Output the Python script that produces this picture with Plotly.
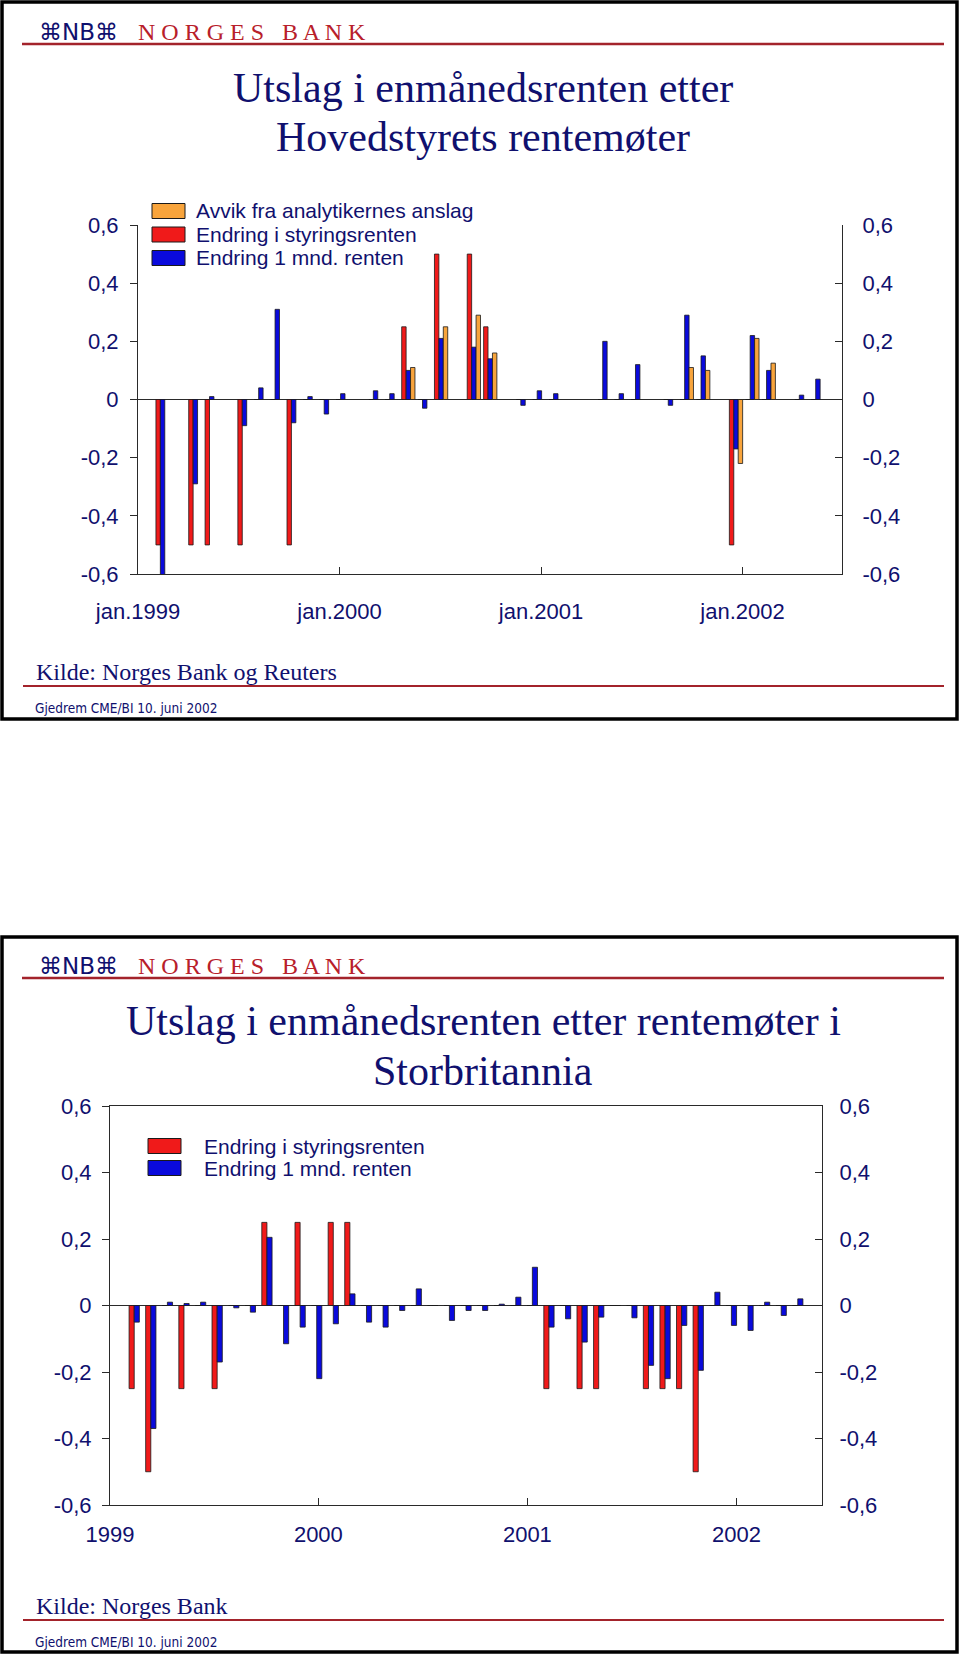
import plotly.graph_objects as go
import pandas as pd

# ---------------- data ----------------
# Norges Bank meetings (month of meeting)
nb_months = ["1999-01", "1999-03", "1999-04", "1999-06", "1999-07", "1999-08", "1999-09",
             "1999-10", "1999-11", "1999-12", "2000-02", "2000-03", "2000-04", "2000-05",
             "2000-06", "2000-08", "2000-09", "2000-11", "2000-12", "2001-01", "2001-04",
             "2001-05", "2001-06", "2001-08", "2001-09", "2001-10", "2001-12", "2002-01",
             "2002-02", "2002-04", "2002-05"]
nb_policy = [-0.5, -0.5, -0.5, -0.5, 0, 0, -0.5, 0, 0, 0, 0, 0, 0.25, 0, 0.5, 0.5, 0.25,
             0, 0, 0, 0, 0, 0, 0, 0, 0, -0.5, 0, 0, 0, 0]
nb_1m = [-0.61, -0.29, 0.01, -0.09, 0.04, 0.31, -0.08, 0.01, -0.05, 0.02, 0.03, 0.02, 0.10,
         -0.03, 0.21, 0.18, 0.14, -0.02, 0.03, 0.02, 0.20, 0.02, 0.12, -0.02, 0.29, 0.15,
         -0.17, 0.22, 0.10, 0.015, 0.07]
nb_surprise = [None, None, None, None, None, None, None, None, None, None, None, None, 0.11,
               None, 0.25, 0.29, 0.16, None, None, None, None, None, None, None, 0.11, 0.10,
               -0.22, 0.21, 0.125, None, None]

# Bank of England MPC meetings, Jan 1999 - May 2002
uk_months = [str(p) for p in pd.period_range("1999-01", "2002-05", freq="M")]
uk_policy = [-0.25, -0.5, 0, -0.25, 0, -0.25, 0, 0, 0.25, 0, 0.25, 0, 0.25, 0.25,
             0, 0, 0, 0, 0, 0, 0, 0, 0, 0, 0, -0.25, 0, -0.25, -0.25, 0, 0, -0.25,
             -0.25, -0.25, -0.5, 0, 0, 0, 0, 0, 0]
uk_1m = [-0.05, -0.37, 0.01, 0.006, 0.01, -0.17, -0.007, -0.02, 0.205, -0.115, -0.065,
         -0.22, -0.055, 0.035, -0.05, -0.065, -0.015, 0.05, 0, -0.045, -0.015, -0.015,
         0.004, 0.025, 0.115, -0.065, -0.04, -0.11, -0.035, 0, -0.037, -0.18, -0.22,
         -0.06, -0.195, 0.04, -0.06, -0.075, 0.01, -0.03, 0.02]

y_ticks = [-0.6, -0.4, -0.2, 0, 0.2, 0.4, 0.6]
y_ticktext = ["-0,6", "-0,4", "-0,2", "0", "0,2", "0,4", "0,6"]

nb_tick_text = ["jan.1999", "jan.2000", "jan.2001", "jan.2002"]
nb_tick_pos = [-1.5, 10.8, 23.1, 35.4]
uk_tick_text = ["1999", "2000", "2001", "2002"]
uk_tick_pos = [-1.46, 11.1, 23.7, 36.3]

# ---------------- styling ----------------
W, H = 960, 1654
NAVY = "#10106E"
RED = "#F01A1A"
BLUE = "#0A0ADC"
ORANGE = "#F8A43C"
EDGE = "#1A1A1A"
AXC = "#2A2A2A"
DARKRED = "#A3232B"
SANS = "Liberation Sans, Arial, sans-serif"
SERIF = "Liberation Serif, Times New Roman, serif"
NARROW = "Liberation Sans Narrow, DejaVu Sans Condensed, Arial Narrow, sans-serif"


def X(p):
    return p / W


def Y(p):
    return 1 - p / H


def month_index(m):
    yy, mm = m.split("-")
    return (int(yy) - 1999) * 12 + int(mm) - 1


nb_x = [month_index(m) for m in nb_months]
uk_x = [month_index(m) for m in uk_months]

fig = go.Figure()

w1 = 0.27
fig.add_trace(go.Bar(x=nb_x, y=nb_policy, name="Endring i styringsrenten", width=w1,
                     offset=-1.5 * w1, marker=dict(color=RED, line=dict(color=EDGE, width=0.8)),
                     xaxis="x", yaxis="y"))
fig.add_trace(go.Bar(x=nb_x, y=nb_1m, name="Endring 1 mnd. renten", width=w1,
                     offset=-0.5 * w1, marker=dict(color=BLUE, line=dict(color=EDGE, width=0.8)),
                     xaxis="x", yaxis="y"))
fig.add_trace(go.Bar(x=nb_x, y=nb_surprise, name="Avvik fra analytikernes anslag", width=w1,
                     offset=0.5 * w1, marker=dict(color=ORANGE, line=dict(color=EDGE, width=0.8)),
                     xaxis="x", yaxis="y"))

w2 = 0.31
fig.add_trace(go.Bar(x=uk_x, y=uk_policy, name="Endring i styringsrenten", width=w2,
                     offset=-w2, marker=dict(color=RED, line=dict(color=EDGE, width=0.8)),
                     xaxis="x2", yaxis="y2"))
fig.add_trace(go.Bar(x=uk_x, y=uk_1m, name="Endring 1 mnd. renten", width=w2,
                     offset=0, marker=dict(color=BLUE, line=dict(color=EDGE, width=0.8)),
                     xaxis="x2", yaxis="y2"))

# helper traces so that the right-hand axes are drawn
fig.add_trace(go.Scatter(x=[None], y=[None], xaxis="x", yaxis="y3", showlegend=False,
                         hoverinfo="skip"))
fig.add_trace(go.Scatter(x=[None], y=[None], xaxis="x2", yaxis="y4", showlegend=False,
                         hoverinfo="skip"))

tickfont = dict(family=SANS, size=22, color=NAVY)

common_y = dict(range=[-0.6, 0.6], tickvals=y_ticks, ticktext=y_ticktext, showgrid=False,
                showline=True, linecolor=AXC, linewidth=1, tickcolor=AXC, ticklen=7,
                tickfont=tickfont, fixedrange=True, automargin=False)

fig.update_layout(
    width=W, height=H, margin=dict(l=0, r=0, t=0, b=0, pad=0, autoexpand=False),
    paper_bgcolor="white", plot_bgcolor="white",
    barmode="overlay", showlegend=False,
    xaxis=dict(domain=[X(138), X(842)], range=[-1.5, 41.47], anchor="y",
               tickvals=nb_tick_pos, ticktext=nb_tick_text, ticks="inside", ticklen=7,
               tickcolor=AXC, showline=True, linecolor=AXC, linewidth=1, showgrid=False,
               zeroline=False, tickfont=dict(family=SANS, size=22, color=NAVY),
               ticklabelstandoff=18, automargin=False),
    yaxis=dict(domain=[Y(574), Y(225)], anchor="x", ticks="outside", zeroline=True,
               zerolinecolor=AXC, zerolinewidth=1, ticklabelstandoff=7, **common_y),
    yaxis3=dict(overlaying="y", anchor="x", side="right", ticks="inside", zeroline=False,
                ticklabelstandoff=15, **common_y),
    xaxis2=dict(domain=[X(110), X(822)], range=[-1.46, 41.46], anchor="y2",
                tickvals=uk_tick_pos, ticktext=uk_tick_text, ticks="inside", ticklen=7,
                tickcolor=AXC, showline=True, mirror=True, linecolor=AXC, linewidth=1,
                showgrid=False, zeroline=False,
                tickfont=dict(family=SANS, size=22, color=NAVY), ticklabelstandoff=10,
                automargin=False),
    yaxis2=dict(domain=[Y(1505), Y(1106)], anchor="x2", ticks="outside", zeroline=True,
                zerolinecolor=AXC, zerolinewidth=1, ticklabelstandoff=6, **common_y),
    yaxis4=dict(overlaying="y2", anchor="x2", side="right", ticks="inside", zeroline=False,
                ticklabelstandoff=12, **common_y),
)

shapes = []
annotations = []

# slide frames
for top, bot in [(2, 719), (937, 1652)]:
    shapes.append(dict(type="rect", xref="paper", yref="paper", x0=X(2), x1=X(957),
                       y0=Y(bot), y1=Y(top), line=dict(color="black", width=3.5),
                       fillcolor="rgba(0,0,0,0)"))


def header(offset):
    shapes.append(dict(type="line", xref="paper", yref="paper", x0=X(22), x1=X(944),
                       y0=Y(44 + offset), y1=Y(44 + offset),
                       line=dict(color=DARKRED, width=2.5)))
    annotations.append(dict(text="⌘NB⌘", xref="paper", yref="paper", x=X(78), y=Y(32 + offset),
                            xanchor="center", yanchor="middle", showarrow=False,
                            font=dict(family="DejaVu Sans, sans-serif", size=23, color=NAVY)))
    annotations.append(dict(text="N O R G E S   B A N K", xref="paper", yref="paper",
                            x=X(136), y=Y(32 + offset), xanchor="left", yanchor="middle",
                            showarrow=False,
                            font=dict(family=SERIF, size=24, color="#B8202A")))


def footer(offset, source):
    annotations.append(dict(text=source, xref="paper", yref="paper", x=X(34), y=Y(672 + offset),
                            xanchor="left", yanchor="middle", showarrow=False,
                            font=dict(family=SERIF, size=24, color=NAVY)))
    shapes.append(dict(type="line", xref="paper", yref="paper", x0=X(23), x1=X(944),
                       y0=Y(686 + offset), y1=Y(686 + offset),
                       line=dict(color=DARKRED, width=2)))
    annotations.append(dict(text="Gjedrem CME/BI 10. juni 2002", xref="paper", yref="paper",
                            x=X(33), y=Y(708 + offset), xanchor="left", yanchor="middle",
                            showarrow=False, font=dict(family=NARROW, size=13.5, color=NAVY)))


header(0)
header(934)
footer(0, "Kilde: Norges Bank og Reuters")
footer(934, "Kilde: Norges Bank")

# titles
for txt, yy in [("Utslag i enmånedsrenten etter", 88), ("Hovedstyrets rentemøter", 137),
                ("Utslag i enmånedsrenten etter rentemøter i", 1021), ("Storbritannia", 1071)]:
    annotations.append(dict(text=txt, xref="paper", yref="paper", x=X(483), y=Y(yy),
                            xanchor="center", yanchor="middle", showarrow=False,
                            font=dict(family=SERIF, size=42, color=NAVY)))

# legends (swatches + labels)
legend_top = [("Avvik fra analytikernes anslag", ORANGE, 211),
              ("Endring i styringsrenten", RED, 234.5),
              ("Endring 1 mnd. renten", BLUE, 258)]
legend_bot = [("Endring i styringsrenten", RED, 1146),
              ("Endring 1 mnd. renten", BLUE, 1168)]
for items, sx0, sx1, tx in [(legend_top, 152, 185, 194), (legend_bot, 148, 181, 202)]:
    for label, col, yy in items:
        shapes.append(dict(type="rect", xref="paper", yref="paper", x0=X(sx0), x1=X(sx1),
                           y0=Y(yy + 7.5), y1=Y(yy - 7.5), fillcolor=col,
                           line=dict(color=EDGE, width=1)))
        annotations.append(dict(text=label, xref="paper", yref="paper", x=X(tx), y=Y(yy),
                                xanchor="left", yanchor="middle", showarrow=False,
                                font=dict(family=SANS, size=21, color=NAVY)))

fig.update_layout(shapes=shapes, annotations=annotations)

fig.write_html("out.html", config={"displayModeBar": False, "staticPlot": True},
               post_script="document.body.style.margin='0';document.body.style.overflow='hidden';")
